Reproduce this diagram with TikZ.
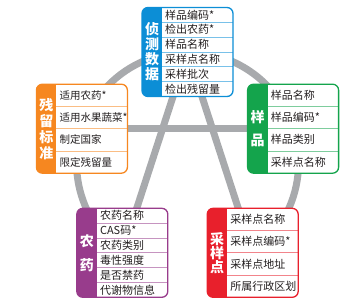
\documentclass[tikz,border=0pt]{standalone}
\usepackage{fontspec}
\setmainfont{Noto Sans CJK SC}
\definecolor{cblue}{RGB}{12,142,214}
\definecolor{corange}{RGB}{246,135,32}
\definecolor{cgreen}{RGB}{20,164,76}
\definecolor{cpurple}{RGB}{152,60,140}
\definecolor{cred}{RGB}{232,32,44}
\definecolor{cgray}{RGB}{168,170,173}
\definecolor{ctext}{RGB}{35,31,32}
\tikzset{
  conn/.style={draw=cgray, line width=7pt},
  boxshape/.style={rectangle, fill=white, rounded corners=6pt, minimum width=91pt, minimum height=89pt, inner sep=0pt, outer sep=0pt},
  labeltext/.style={text=white, inner sep=0pt, align=center},
  rowtext/.style={text=ctext, inner sep=0pt, anchor=west},
}
% #1 name, #2 position, #3 colour, #4 rows, #5 label, #6 row font size, #7 rows, #8 label line spacing
\newcommand{\infobox}[8]{%
  \node[boxshape] (#1) at #2 {};
  \begin{scope}
    \clip[rounded corners=6pt] (#1.south west) rectangle (#1.north east);
    \fill[#3] (#1.south west) rectangle ([xshift=20pt]#1.north west);
  \end{scope}
  \node[labeltext, font={\fontsize{14}{#8}\selectfont\bfseries}] (#1-lab) at ([xshift=10pt]#1.west) {#5};
  \pgfmathsetmacro\rh{89/#4}
  \foreach \t [count=\i] in {#7} {
    \node[rowtext, font=\fontsize{#6}{#6}\selectfont] (#1-r\i) at ([xshift=23pt, yshift={-(\i-0.5)*\rh}]#1.north west) {\t};
    \ifnum\i<#4
      \draw[#3!55!white, line width=0.8pt] ([xshift=20pt, yshift={-\i*\rh}]#1.north west) -- ([yshift={-\i*\rh}]#1.north east);
    \fi
  }
  \draw[#3, line width=1.3pt, rounded corners=6pt] (#1.south west) rectangle (#1.north east);
}
\begin{document}
\begin{tikzpicture}[x=1pt,y=1pt]
\useasboundingbox (0,0) rectangle (361,307);
\coordinate (O) at (187.5,144);
\coordinate (ptop) at (187.5,255);
\coordinate (pleft) at (81.9,178.3);
\coordinate (pright) at (293.1,178.3);
\coordinate (pbl) at (122.3,54.2);
\coordinate (pbr) at (252.7,54.2);
% connectors
\draw[conn] (pbl) arc[start angle=234, end angle=-54, radius=111];
\draw[conn] (ptop) -- (pbl);
\draw[conn] (ptop) -- (pbr);
\draw[conn] (pleft) -- (pright);
% boxes
\infobox{top}{(ptop)}{cblue}{6}{侦\\测\\数\\据}{11}{样品编码*,检出农药*,样品名称,采样点名称,采样批次,检出残留量}{15}
\infobox{left}{(pleft)}{corange}{4}{残\\留\\标\\准}{10.5}{适用农药*,适用水果蔬菜*,制定国家,限定残留量}{16}
\infobox{right}{(pright)}{cgreen}{4}{样\\品}{11}{样品名称,样品编码*,样品类别,采样点名称}{23}
\infobox{bl}{(pbl)}{cpurple}{6}{农\\药}{11}{农药名称,CAS码*,农药类别,毒性强度,是否禁药,代谢物信息}{24}
\infobox{br}{(pbr)}{cred}{4}{采\\样\\点}{11}{采样点名称,采样点编码*,采样点地址,所属行政区划}{14}
\end{tikzpicture}
\end{document}
